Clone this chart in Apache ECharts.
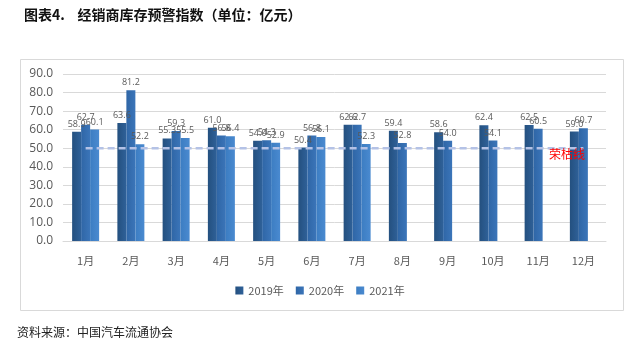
<!DOCTYPE html>
<html>
<head>
<meta charset="utf-8">
<script src="https://cdn.jsdelivr.net/npm/echarts@6/dist/echarts.min.js"></script>
<style>
  html, body { margin: 0; padding: 0; background: #fff; }
  #chart { width: 640px; height: 353px; }
</style>
</head>
<body>
<div id="chart"></div>
<script>
// 月份
var months = ['1月', '2月', '3月', '4月', '5月', '6月', '7月', '8月', '9月', '10月', '11月', '12月']
// 各年度库存预警指数
var y2019 = [58.9, 63.6, 55.3, 61.0, 54.0, 50.4, 62.6, 59.4, 58.6, 62.4, 62.5, 59.0]
var y2020 = [62.7, 81.2, 59.3, 56.8, 54.3, 56.8, 62.7, 52.8, 54.0, 54.1, 60.5, 60.7]
var y2021 = [60.1, 52.2, 55.5, 56.4, 52.9, 56.1, 52.3, null, null, null, null, null]
// 荣枯线
var boomLine = [50, 50, 50, 50, 50, 50, 50, 50, 50, 50, 50, 50]
var yTicks = { min: 0, max: 90, step: 10 }

var chart = echarts.init(document.getElementById('chart'))

function barSeries(name, data, c1, c2) {
    return {
        name: name,
        type: 'bar',
        data: data,
        barWidth: 9,
        barGap: '0%',
        itemStyle: {
            color: new echarts.graphic.LinearGradient(0, 0, 1, 0, [
                { offset: 0, color: c1 },
                { offset: 1, color: c2 }
            ])
        },
        label: {
            show: true,
            position: 'top',
            distance: 3,
            fontSize: 9,
            color: '#595959',
            fontFamily: 'Open Sans',
            formatter: function (p) { return p.value == null ? '' : p.value.toFixed(1) }
        }
    }
}

var option = {
    animation: false,
    backgroundColor: '#fff',
    textStyle: { fontFamily: 'Noto Sans CJK SC' },
    graphic: [
        {
            type: 'rect',
            shape: { x: 20.5, y: 59.5, width: 603, height: 251 },
            style: { fill: 'none', stroke: '#D9D9D9', lineWidth: 1 },
            z: -1
        },
        {
            type: 'text',
            left: 24, top: 8,
            style: {
                text: '图表4.    经销商库存预警指数（单位：亿元）',
                font: 'bold 14px "Noto Sans CJK SC"',
                fill: '#111'
            }
        },
        {
            type: 'text',
            left: 549, top: 148,
            z: 100,
            style: {
                text: '荣枯线',
                font: '12px "Noto Sans CJK SC"',
                fill: '#FF0000'
            }
        },
        {
            type: 'text',
            left: 17, top: 326,
            style: {
                text: '资料来源：中国汽车流通协会',
                font: '12px "Noto Sans CJK SC"',
                fill: '#222'
            }
        }
    ],
    legend: {
        data: ['2019年', '2020年', '2021年'],
        left: 'center',
        top: 280,
        itemWidth: 8,
        itemHeight: 8,
        itemGap: 12,
        icon: 'rect',
        textStyle: { fontSize: 11, color: '#595959' }
    },
    grid: { left: 63, right: 34, top: 74, bottom: 112 },
    xAxis: {
        type: 'category',
        data: months,
        axisLine: { lineStyle: { color: '#D9D9D9' } },
        axisTick: { show: false },
        axisLabel: { color: '#595959', fontSize: 11, margin: 14 }
    },
    yAxis: {
        type: 'value',
        min: yTicks.min,
        max: yTicks.max,
        interval: yTicks.step,
        axisLine: { show: false },
        axisTick: { show: false },
        splitLine: { lineStyle: { color: '#D9D9D9' } },
        axisLabel: {
            color: '#595959',
            fontSize: 12,
            fontFamily: 'Open Sans',
            margin: 10,
            formatter: function (v) { return v.toFixed(1) }
        }
    },
    series: [
        barSeries('2019年', y2019, '#24507f', '#2f6199'),
        barSeries('2020年', y2020, '#2f66a6', '#3b75b9'),
        barSeries('2021年', y2021, '#3c7dc2', '#4a8ad0'),
        {
            name: '荣枯线',
            type: 'line',
            data: boomLine,
            symbol: 'none',
            silent: true,
            z: 5,
            lineStyle: { color: '#B4C2E6', width: 2.5, type: [7, 4] }
        }
    ]
}
chart.setOption(option)
</script>
</body>
</html>
